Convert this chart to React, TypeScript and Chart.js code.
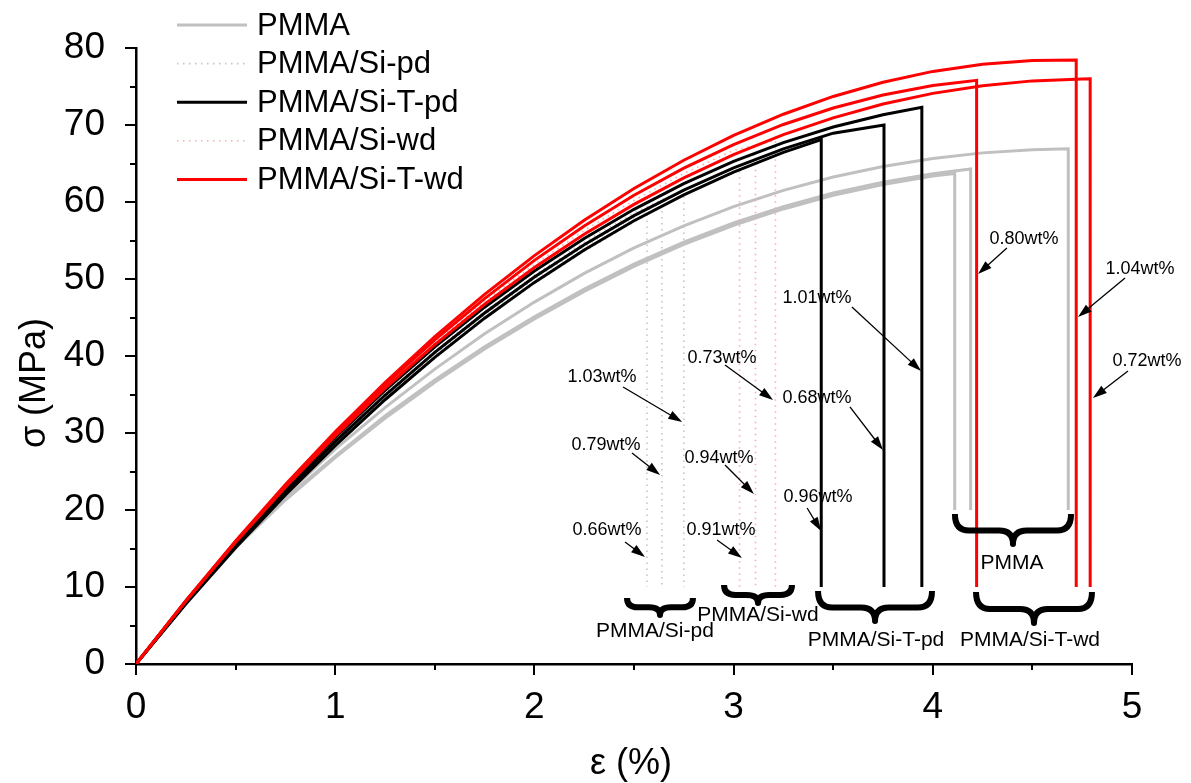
import React, { useEffect, useRef } from "react";
import { Chart, registerables } from "chart.js";

Chart.register(...registerables);

// ---------- data (strain %, stress MPa) ----------
const STRAIN = [0, 0.25, 0.5, 0.75, 1, 1.25, 1.5, 1.75, 2, 2.25, 2.5, 2.75, 3, 3.25, 3.5, 3.75, 4, 4.25, 4.5, 4.75];

// PMMA (gray)
const PMMA_A = [0, 7.9, 15.1, 21.3, 26.8, 31.9, 36.6, 40.9, 44.8, 48.4, 51.65, 54.5, 56.98, 59.1, 60.86, 62.28, 63.37];
const PMMA_B = [0, 8.0, 15.2, 21.5, 27.0, 32.2, 36.9, 41.2, 45.1, 48.7, 51.95, 54.8, 57.28, 59.4, 61.16, 62.58, 63.67];
const PMMA_C = [0, 8.0, 15.4, 21.9, 27.9, 33.3, 38.3, 42.9, 47.0, 50.73, 54.03, 56.91, 59.4, 61.51, 63.24, 64.62, 65.66, 66.38, 66.79];
const PMMA_BREAK_STRAIN = [4.11, 4.19, 4.68];
const PMMA_BREAK_STRESS = [63.7, 64.3, 66.9];
const PMMA_DROP = [20, 20, 20];

// PMMA/Si-pd (gray dotted)
const SIPD_A = [0, 7.8, 15.1, 21.9, 28.3, 34.2, 39.7, 44.8, 49.4, 53.6, 57.4];
const SIPD_B = [0, 7.9, 15.3, 22.2, 28.6, 34.6, 40.2, 45.3, 50.0, 54.2, 58.0];
const SIPD_C = [0, 8.0, 15.5, 22.5, 29.0, 35.1, 40.7, 45.8, 50.5, 54.8, 58.6];
const SIPD_BREAK_STRAIN = [2.565, 2.64, 2.75];
const SIPD_BREAK_STRESS = [58.3, 60.0, 61.6];
const SIPD_DROP = [10, 10, 10];

// PMMA/Si-T-pd (black)
const SITPD_A = [0, 7.78, 15.09, 21.95, 28.36, 34.32, 39.83, 44.91, 49.56, 53.77, 57.56, 60.93, 63.89, 66.44];
const SITPD_B = [0, 7.94, 15.39, 22.36, 28.87, 34.9, 40.47, 45.59, 50.25, 54.46, 58.23, 61.55, 64.44, 66.9, 68.94];
const SITPD_C = [0, 8.11, 15.71, 22.81, 29.42, 35.54, 41.18, 46.34, 51.04, 55.27, 59.05, 62.38, 65.27, 67.72, 69.74, 71.34];
const SITPD_BREAK_STRAIN = [3.44, 3.755, 3.945];
const SITPD_BREAK_STRESS = [68.1, 70.0, 72.3];
const SITPD_DROP = [10, 10, 10];

// PMMA/Si-wd (pink dotted)
const SIWD_A = [0, 7.95, 15.4, 22.4, 28.9, 34.9, 40.5, 45.6, 50.3, 54.5, 58.3, 61.6, 64.45];
const SIWD_B = [0, 8.1, 15.7, 22.8, 29.4, 35.5, 41.2, 46.3, 51.0, 55.3, 59.1, 62.4, 65.3];
const SIWD_C = [0, 8.2, 15.9, 23.1, 29.8, 36.0, 41.8, 47.1, 51.9, 56.3, 60.2, 63.7, 66.7];
const SIWD_BREAK_STRAIN = [3.03, 3.11, 3.21];
const SIWD_BREAK_STRESS = [64.8, 66.2, 68.0];
const SIWD_DROP = [10, 10, 10];

// PMMA/Si-T-wd (red)
const SITWD_A = [0, 8.19, 15.91, 23.16, 29.94, 36.25, 42.09, 47.46, 52.42, 56.88, 60.87, 64.4, 67.46, 70.07, 72.21, 73.9, 75.12];
const SITWD_B = [0, 8.22, 15.99, 23.3, 30.16, 36.56, 42.51, 48.0, 53.04, 57.62, 61.75, 65.42, 68.64, 71.4, 73.71, 75.56, 76.96, 77.9, 78.39];
const SITWD_C = [0, 8.16, 15.8, 22.95, 29.61, 35.79, 41.49, 46.72, 51.49, 55.81, 59.69, 63.13, 66.15, 68.75, 70.93, 72.72, 74.11, 75.11, 75.73, 75.98];
const SITWD_BREAK_STRAIN = [4.22, 4.72, 4.79];
const SITWD_BREAK_STRESS = [75.8, 78.45, 76.0];
const SITWD_DROP = [10, 10, 10];

const LEGEND_LABELS = ["PMMA", "PMMA/Si-pd", "PMMA/Si-T-pd", "PMMA/Si-wd", "PMMA/Si-T-wd"];

const X_TICKS = [0, 1, 2, 3, 4, 5];
const Y_TICKS = [0, 10, 20, 30, 40, 50, 60, 70, 80];

// weight-fraction annotations: label, text anchor (strain, stress), arrow tail, arrow head
const WT_LABELS = ["1.03wt%", "0.79wt%", "0.66wt%", "0.73wt%", "0.94wt%", "0.91wt%", "1.01wt%", "0.68wt%", "0.96wt%", "0.80wt%", "1.04wt%", "0.72wt%"];
const WT_TEXT = [[2.339, 37.27], [2.359, 28.44], [2.364, 17.4], [2.942, 39.74], [2.927, 26.75], [2.937, 17.4], [3.419, 47.53], [3.419, 34.55], [3.424, 21.69], [4.458, 55.19], [5.04, 51.3], [5.075, 39.35]];
const WT_FROM = [[2.445, 35.97], [2.49, 27.4], [2.455, 15.84], [2.957, 38.83], [2.957, 25.84], [2.917, 16.1], [3.594, 46.36], [3.584, 33.38], [3.369, 20.26], [4.372, 54.03], [4.965, 50.13], [4.98, 38.05]];
const WT_TO = [[2.742, 31.43], [2.631, 24.55], [2.555, 13.9], [3.198, 34.29], [3.102, 22.08], [3.042, 13.77], [3.941, 38.05], [3.75, 27.79], [3.439, 17.27], [4.227, 50.65], [4.729, 45.06], [4.804, 34.55]];

// group braces: label, strain span, brace top/tip stress, label anchor
const BRACE_LABELS = ["PMMA/Si-pd", "PMMA/Si-wd", "PMMA/Si-T-pd", "PMMA", "PMMA/Si-T-wd"];
const BRACE_SPAN = [[2.465, 2.796], [2.952, 3.293], [3.424, 3.996], [4.111, 4.694], [4.217, 4.799]];
const BRACE_Y = [[8.57, 6.36], [10.26, 7.92], [9.48, 5.58], [19.48, 15.58], [9.35, 5.32]];
const BRACE_TEXT = [[2.605, 4.29], [3.122, 6.36], [3.715, 3.12], [4.398, 13.12], [4.488, 3.12]];

// ---------- helpers ----------
const FONT = '"Liberation Sans", Arial, Helvetica, sans-serif';

function buildCurve(stress: number[], breakStrain: number, breakStress: number, drop: number) {
  const pts = stress.map((s, i) => ({ x: STRAIN[i], y: s }));
  pts.push({ x: breakStrain, y: breakStress });
  pts.push({ x: breakStrain, y: drop });
  return pts;
}

type Style = { color: string; width: number; dash: number[]; order: number };
const STYLES: Style[] = [
  { color: "#c0c0c0", width: 3, dash: [], order: 5 },
  { color: "#c4c4c4", width: 1.6, dash: [1.5, 4.5], order: 3 },
  { color: "#000000", width: 3, dash: [], order: 2 },
  { color: "#ffaaaa", width: 1.6, dash: [1.5, 4.5], order: 4 },
  { color: "#ff0000", width: 3, dash: [], order: 1 },
];

function groupDatasets(gi: number, curves: number[][], bs: number[], bst: number[], drop: number[]) {
  const st = STYLES[gi];
  return curves.map((c, i) => ({
    label: LEGEND_LABELS[gi],
    data: buildCurve(c, bs[i], bst[i], drop[i]),
    borderColor: st.color,
    borderWidth: st.width,
    borderDash: st.dash,
    pointRadius: 0,
    tension: 0,
    fill: false,
    order: st.order,
    borderCapStyle: "butt" as const,
    borderJoinStyle: "miter" as const,
  }));
}

function drawArrow(ctx: CanvasRenderingContext2D, x0: number, y0: number, x1: number, y1: number) {
  const a = Math.atan2(y1 - y0, x1 - x0);
  const L = 14, W = 4.5;
  const c = Math.cos(a), s = Math.sin(a);
  ctx.beginPath();
  ctx.moveTo(x0, y0);
  ctx.lineTo(x1 - L * 0.7 * c, y1 - L * 0.7 * s);
  ctx.stroke();
  ctx.beginPath();
  ctx.moveTo(x1, y1);
  ctx.lineTo(x1 - L * c + W * s, y1 - L * s - W * c);
  ctx.lineTo(x1 - L * c - W * s, y1 - L * s + W * c);
  ctx.closePath();
  ctx.fill();
}

function drawBrace(ctx: CanvasRenderingContext2D, x1: number, x2: number, yTop: number, yTip: number) {
  const xm = (x1 + x2) / 2;
  const ym = yTop + (yTip - yTop) * 0.55;
  const r = Math.min(14, (x2 - x1) / 6);
  ctx.beginPath();
  ctx.moveTo(x1, yTop);
  ctx.quadraticCurveTo(x1, ym, x1 + r, ym);
  ctx.lineTo(xm - r, ym);
  ctx.quadraticCurveTo(xm, ym, xm, yTip);
  ctx.quadraticCurveTo(xm, ym, xm + r, ym);
  ctx.lineTo(x2 - r, ym);
  ctx.quadraticCurveTo(x2, ym, x2, yTop);
  ctx.stroke();
}

const decorPlugin = {
  id: "decor",
  afterDraw(chart: any) {
    const ctx: CanvasRenderingContext2D = chart.ctx;
    const xs = chart.scales.x;
    const ys = chart.scales.y;
    const area = chart.chartArea;
    ctx.save();

    // tick marks (outward, with minor ticks)
    ctx.strokeStyle = "#000";
    ctx.lineWidth = 2;
    for (let v = 0; v <= 80.001; v += 5) {
      const y = Math.round(ys.getPixelForValue(v));
      const len = v % 10 === 0 ? 11 : 6;
      ctx.beginPath();
      ctx.moveTo(area.left, y);
      ctx.lineTo(area.left - len, y);
      ctx.stroke();
    }
    for (let v = 0; v <= 5.001; v += 0.5) {
      const x = Math.round(xs.getPixelForValue(v));
      const len = Math.abs(v - Math.round(v)) < 1e-6 ? 11 : 6;
      ctx.beginPath();
      ctx.moveTo(x, area.bottom);
      ctx.lineTo(x, area.bottom + len);
      ctx.stroke();
    }

    // axis titles
    ctx.fillStyle = "#000";
    ctx.font = `36px ${FONT}`;
    ctx.textAlign = "center";
    ctx.textBaseline = "middle";
    ctx.fillText("ε (%)", area.left + 495, area.bottom + 100);
    ctx.save();
    ctx.translate(area.left - 101, area.top + 335);
    ctx.rotate(-Math.PI / 2);
    ctx.fillText("σ (MPa)", 0, 0);
    ctx.restore();

    // legend
    const lx = area.left + 41;
    const ly = area.top - 23;
    ctx.font = `31px ${FONT}`;
    ctx.textAlign = "left";
    ctx.textBaseline = "middle";
    LEGEND_LABELS.forEach((lab, i) => {
      const st = STYLES[i];
      const y = ly + i * 38.6;
      ctx.strokeStyle = st.color;
      ctx.lineWidth = st.width;
      ctx.setLineDash(st.dash);
      ctx.beginPath();
      ctx.moveTo(lx, y);
      ctx.lineTo(lx + 70, y);
      ctx.stroke();
      ctx.setLineDash([]);
      ctx.fillStyle = "#000";
      ctx.fillText(lab, lx + 80, y + 1);
    });

    // wt% annotations
    ctx.font = `18px ${FONT}`;
    ctx.textAlign = "center";
    ctx.textBaseline = "middle";
    ctx.strokeStyle = "#000";
    ctx.fillStyle = "#000";
    ctx.lineWidth = 1.3;
    WT_LABELS.forEach((lab, i) => {
      ctx.fillText(lab, xs.getPixelForValue(WT_TEXT[i][0]), ys.getPixelForValue(WT_TEXT[i][1]));
      drawArrow(
        ctx,
        xs.getPixelForValue(WT_FROM[i][0]), ys.getPixelForValue(WT_FROM[i][1]),
        xs.getPixelForValue(WT_TO[i][0]), ys.getPixelForValue(WT_TO[i][1])
      );
    });

    // braces
    ctx.lineWidth = 6;
    ctx.lineJoin = "round";
    ctx.lineCap = "butt";
    ctx.font = `21px ${FONT}`;
    BRACE_LABELS.forEach((lab, i) => {
      drawBrace(
        ctx,
        xs.getPixelForValue(BRACE_SPAN[i][0]), xs.getPixelForValue(BRACE_SPAN[i][1]),
        ys.getPixelForValue(BRACE_Y[i][0]), ys.getPixelForValue(BRACE_Y[i][1])
      );
      ctx.fillText(lab, xs.getPixelForValue(BRACE_TEXT[i][0]), ys.getPixelForValue(BRACE_TEXT[i][1]));
    });

    ctx.restore();
  },
};

export default function App() {
  const ref = useRef<HTMLCanvasElement | null>(null);

  useEffect(() => {
    if (!ref.current) return;
    const datasets = [
      ...groupDatasets(0, [PMMA_A, PMMA_B, PMMA_C], PMMA_BREAK_STRAIN, PMMA_BREAK_STRESS, PMMA_DROP),
      ...groupDatasets(1, [SIPD_A, SIPD_B, SIPD_C], SIPD_BREAK_STRAIN, SIPD_BREAK_STRESS, SIPD_DROP),
      ...groupDatasets(2, [SITPD_A, SITPD_B, SITPD_C], SITPD_BREAK_STRAIN, SITPD_BREAK_STRESS, SITPD_DROP),
      ...groupDatasets(3, [SIWD_A, SIWD_B, SIWD_C], SIWD_BREAK_STRAIN, SIWD_BREAK_STRESS, SIWD_DROP),
      ...groupDatasets(4, [SITWD_A, SITWD_B, SITWD_C], SITWD_BREAK_STRAIN, SITWD_BREAK_STRESS, SITWD_DROP),
    ];
    const chart = new Chart(ref.current, {
      type: "line",
      data: { datasets },
      options: {
        responsive: false,
        animation: false,
        devicePixelRatio: 1,
        layout: { padding: { top: 48, right: 59, left: 0, bottom: 0 } },
        plugins: { legend: { display: false }, tooltip: { enabled: false } },
        scales: {
          x: {
            type: "linear",
            min: 0,
            max: 5,
            afterBuildTicks: (s: any) => { s.ticks = X_TICKS.map((v) => ({ value: v })); },
            afterFit: (s: any) => { s.height = 119; },
            grid: { display: false },
            border: { display: true, color: "#000", width: 2.5 },
            ticks: { color: "#000", font: { family: FONT, size: 37 }, padding: 14, maxRotation: 0 },
          },
          y: {
            type: "linear",
            min: 0,
            max: 80,
            afterBuildTicks: (s: any) => { s.ticks = Y_TICKS.map((v) => ({ value: v })); },
            afterFit: (s: any) => { s.width = 136; },
            grid: { display: false },
            border: { display: true, color: "#000", width: 2.5 },
            ticks: { color: "#000", font: { family: FONT, size: 37 }, padding: 23 },
          },
        },
      },
      plugins: [decorPlugin],
    } as any);
    return () => chart.destroy();
  }, []);

  return (
    <div style={{ position: "absolute", left: 0, top: 0, width: 1191, height: 783, background: "#fff" }}>
      <canvas ref={ref} width={1191} height={783} style={{ width: 1191, height: 783 }} />
    </div>
  );
}
